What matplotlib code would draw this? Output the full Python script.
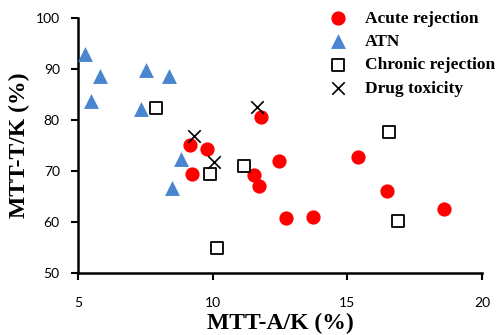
import matplotlib.pyplot as plt

# データ (MTT-A/K, MTT-T/K)
acute_x = [11.80, 9.17, 9.79, 9.25, 11.52, 11.74, 12.45, 12.73, 13.72, 15.41, 16.46, 18.59]
acute_y = [80.6, 75.2, 74.3, 69.4, 69.2, 67.1, 71.9, 60.8, 61.0, 72.8, 66.1, 62.6]

atn_x = [5.28, 5.47, 5.84, 7.52, 8.38, 7.35, 8.84, 8.51]
atn_y = [92.9, 83.7, 88.6, 89.8, 88.7, 82.2, 72.4, 66.6]

chronic_x = [7.91, 9.91, 11.15, 10.17, 16.53, 16.89]
chronic_y = [82.3, 69.5, 71.0, 55.0, 77.6, 60.2]

drug_x = [11.64, 9.30, 10.07]
drug_y = [82.6, 76.9, 71.8]

x_ticks = [5, 10, 15, 20]
y_ticks = [50, 60, 70, 80, 90, 100]

fig = plt.figure(figsize=(4.99, 3.35), dpi=100)
ax = fig.add_axes([0.156, 0.185, 0.81, 0.761])

ax.scatter(acute_x, acute_y, s=105, c='#ff0000', marker='o', linewidths=0,
           label='Acute rejection', zorder=3)
ax.scatter(atn_x, atn_y, s=115, c='#4a86d0', marker='^', linewidths=0,
           label='ATN', zorder=3)
ax.scatter(chronic_x, chronic_y, s=72, facecolors='white', edgecolors='black',
           marker='s', linewidths=1.3, label='Chronic rejection', zorder=3)
ax.scatter(drug_x, drug_y, s=80, c='black', marker='x', linewidths=1.2,
           label='Drug toxicity', zorder=4)

ax.set_xlim(5, 20)
ax.set_ylim(50, 100)
ax.set_xticks(x_ticks)
ax.set_yticks(y_ticks)

for s in ['top', 'right']:
    ax.spines[s].set_visible(False)
for s in ['left', 'bottom']:
    ax.spines[s].set_linewidth(1.8)

ax.tick_params(direction='out', length=5, width=1.5, labelsize=10, colors='black')
ax.tick_params(axis='x', pad=12)
ax.tick_params(axis='y', pad=8)
for lab in ax.get_xticklabels() + ax.get_yticklabels():
    lab.set_family('Lato')

ax.set_xlabel('MTT-A/K (%)', family='Liberation Serif', fontweight='bold',
              fontsize=17, labelpad=3)
ax.set_ylabel('MTT-T/K (%)', family='Liberation Serif', fontweight='bold',
              fontsize=17, labelpad=4)

leg = ax.legend(loc='upper left', bbox_to_anchor=(0.621, 1.03), frameon=False,
                prop={'family': 'Liberation Serif', 'weight': 'bold', 'size': 12.5},
                handlelength=1.0, handletextpad=1.1, labelspacing=0.42,
                borderaxespad=0, borderpad=0)

fig.savefig('out.png', dpi=100)
